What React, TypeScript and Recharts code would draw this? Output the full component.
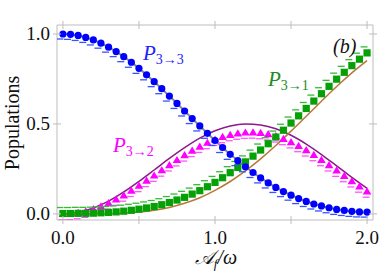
import { ComposedChart, Line, Scatter, XAxis, YAxis } from 'recharts';

// marker grid (step 0.05) and curve grid (step 0.1)
const markerX = [
  0, 0.05, 0.1, 0.15, 0.2, 0.25, 0.3, 0.35, 0.4, 0.45, 0.5, 0.55, 0.6, 0.65, 0.7, 0.75, 0.8, 0.85, 0.9, 0.95,
  1.0, 1.05, 1.1, 1.15, 1.2, 1.25, 1.3, 1.35, 1.4, 1.45, 1.5, 1.55, 1.6, 1.65, 1.7, 1.75, 1.8, 1.85, 1.9, 1.95, 2.0,
];
const p33Points = [
  1.0, 0.998, 0.992, 0.981, 0.967, 0.949, 0.927, 0.902, 0.874, 0.843, 0.809, 0.773, 0.735, 0.696, 0.655, 0.614,
  0.572, 0.53, 0.489, 0.448, 0.408, 0.369, 0.331, 0.296, 0.262, 0.23, 0.2, 0.172, 0.147, 0.124, 0.104, 0.085,
  0.069, 0.055, 0.044, 0.034, 0.025, 0.019, 0.014, 0.011, 0.01,
];
const p32Points = [
  0.0, 0.001, 0.006, 0.014, 0.027, 0.042, 0.06, 0.081, 0.104, 0.13, 0.157, 0.185, 0.214, 0.243, 0.272, 0.3,
  0.327, 0.352, 0.375, 0.396, 0.414, 0.429, 0.44, 0.448, 0.453, 0.454, 0.451, 0.444, 0.433, 0.418, 0.4, 0.379,
  0.355, 0.329, 0.301, 0.272, 0.242, 0.212, 0.183, 0.154, 0.126,
];
const p31Points = [
  0.002, 0.002, 0.003, 0.003, 0.004, 0.006, 0.008, 0.011, 0.015, 0.02, 0.026, 0.033, 0.041, 0.051, 0.063, 0.077,
  0.092, 0.11, 0.129, 0.151, 0.175, 0.201, 0.229, 0.258, 0.289, 0.321, 0.355, 0.39, 0.427, 0.465, 0.505, 0.545,
  0.586, 0.627, 0.668, 0.709, 0.749, 0.787, 0.824, 0.86, 0.895,
];

const curveX = [0, 0.1, 0.2, 0.3, 0.4, 0.5, 0.6, 0.7, 0.8, 0.9, 1.0, 1.1, 1.2, 1.3, 1.4, 1.5, 1.6, 1.7, 1.8, 1.9, 2.0];
const p33Curve = [
  1.0, 0.992, 0.967, 0.927, 0.874, 0.809, 0.735, 0.655, 0.572, 0.489, 0.408, 0.331, 0.262, 0.2, 0.147, 0.104,
  0.069, 0.044, 0.025, 0.013, 0.006,
];
const p32Curve = [
  0.0, 0.008, 0.033, 0.071, 0.122, 0.181, 0.244, 0.308, 0.368, 0.421, 0.462, 0.489, 0.5, 0.494, 0.473, 0.437,
  0.388, 0.33, 0.267, 0.203, 0.142,
];
const p31Curve = [
  0.0, 0.0, 0.0, 0.001, 0.004, 0.01, 0.02, 0.036, 0.059, 0.09, 0.131, 0.18, 0.239, 0.306, 0.38, 0.46, 0.543,
  0.626, 0.708, 0.784, 0.852,
];

const xTicks = [0, 0.5, 1, 1.5, 2];
const xLabeled = [0, 1, 2];
const yTicks = [0, 0.5, 1];

const toPts = (xs: number[], ys: number[]) => xs.map((x, i) => ({ x, y: ys[i] }));

const FRAME = '#bdbdbd';
const SERIF = 'Liberation Serif';

const BottomTick = ({ x, y, payload }: any) => (
  <g>
    <line x1={x} x2={x} y1={y - 4} y2={y + 4} stroke={FRAME} />
    {xLabeled.includes(payload.value) && (
      <text x={x} y={y + 24} textAnchor="middle" fontFamily={SERIF} fontSize={19} fill="#111">
        {payload.value.toFixed(1)}
      </text>
    )}
  </g>
);
const TopTick = ({ x, y }: any) => <line x1={x} x2={x} y1={y - 4} y2={y + 4} stroke={FRAME} />;
const LeftTick = ({ x, y, payload }: any) => (
  <g>
    <line x1={x - 4} x2={x + 4} y1={y} y2={y} stroke={FRAME} />
    <text x={x - 7} y={y + 6} textAnchor="end" fontFamily={SERIF} fontSize={19} fill="#111">
      {payload.value.toFixed(1)}
    </text>
  </g>
);
const RightTick = ({ x, y }: any) => <line x1={x - 4} x2={x + 4} y1={y} y2={y} stroke={FRAME} />;

const Dash = ({ cx, cy, dx, dy, color }: any) => (
  <line x1={cx + dx - 3.5} x2={cx + dx + 3.5} y1={cy + dy} y2={cy + dy} stroke={color} strokeWidth={1.3} />
);

const CircleMark = ({ cx, cy }: any) => (
  <g>
    <Dash cx={cx} cy={cy} dx={-3} dy={5} color="#3355ff" />
    <circle cx={cx} cy={cy} r={3.6} fill="#0000ff" />
  </g>
);
const TriangleMark = ({ cx, cy }: any) => (
  <g>
    <Dash cx={cx} cy={cy} dx={-1} dy={6} color="#ff55ff" />
    <path d={`M${cx},${cy - 4} L${cx + 4.3},${cy + 3.2} L${cx - 4.3},${cy + 3.2} Z`} fill="#ff00ff" />
  </g>
);
const SquareMark = ({ cx, cy }: any) => (
  <g>
    <Dash cx={cx} cy={cy} dx={-3} dy={-6} color="#33bb33" />
    <rect x={cx - 3.6} y={cy - 3.6} width={7.2} height={7.2} fill="#05a005" />
  </g>
);

export default function App() {
  return (
    <div style={{ position: 'relative', width: 382, height: 273 }}>
      <style>{'body{margin:0}'}</style>
      <ComposedChart width={382} height={273} margin={{ top: 24, right: 8, bottom: 0, left: 0 }}>
        <XAxis
          xAxisId={0}
          type="number"
          dataKey="x"
          domain={[-0.039, 2.039]}
          ticks={xTicks}
          tick={BottomTick}
          tickLine={false}
          tickSize={0}
          tickMargin={0}
          axisLine={{ stroke: FRAME }}
          height={53}
          allowDataOverflow
        />
        <XAxis
          xAxisId="top"
          orientation="top"
          type="number"
          dataKey="x"
          domain={[-0.039, 2.039]}
          ticks={xTicks}
          tick={TopTick}
          tickLine={false}
          tickSize={0}
          tickMargin={0}
          axisLine={{ stroke: FRAME }}
          height={1}
          allowDataOverflow
        />
        <YAxis
          yAxisId={0}
          type="number"
          domain={[-0.034, 1.05]}
          ticks={yTicks}
          tick={LeftTick}
          tickLine={false}
          tickSize={0}
          tickMargin={0}
          axisLine={{ stroke: FRAME }}
          width={57}
          allowDataOverflow
        />
        <YAxis
          yAxisId="right"
          orientation="right"
          type="number"
          domain={[-0.034, 1.05]}
          ticks={yTicks}
          tick={RightTick}
          tickLine={false}
          tickSize={0}
          tickMargin={0}
          axisLine={{ stroke: FRAME }}
          width={1}
          allowDataOverflow
        />
        <Scatter data={toPts(markerX, p32Points)} dataKey="y" shape={TriangleMark} isAnimationActive={false} />
        <Scatter data={toPts(markerX, p31Points)} dataKey="y" shape={SquareMark} isAnimationActive={false} />
        <Scatter data={toPts(markerX, p33Points)} dataKey="y" shape={CircleMark} isAnimationActive={false} />
        <Line data={toPts(curveX, p33Curve)} dataKey="y" type="monotone" stroke="#8a8a8a" strokeWidth={2} dot={false} isAnimationActive={false} />
        <Line data={toPts(curveX, p32Curve)} dataKey="y" type="monotone" stroke="#8b1a8b" strokeWidth={1.5} dot={false} isAnimationActive={false} />
        <Line data={toPts(curveX, p31Curve)} dataKey="y" type="monotone" stroke="#b9773a" strokeWidth={1.5} dot={false} isAnimationActive={false} />
      </ComposedChart>

      {/* annotations on top of the plot */}
      <svg width={382} height={273} style={{ position: 'absolute', left: 0, top: 0, pointerEvents: 'none' }}>
        <text x={143} y={60} fill="#2222ff" fontFamily={SERIF} fontSize={21} fontStyle="italic">
          P<tspan fontSize={14} fontStyle="normal" dy={4}>3→3</tspan>
        </text>
        <text x={113} y={152} fill="#ff00ff" fontFamily={SERIF} fontSize={21} fontStyle="italic">
          P<tspan fontSize={14} fontStyle="normal" dy={4}>3→2</tspan>
        </text>
        <text x={268} y={86} fill="#238b23" fontFamily={SERIF} fontSize={21} fontStyle="italic">
          P<tspan fontSize={14} fontStyle="normal" dy={4}>3→1</tspan>
        </text>
        <text x={333} y={53} fill="#111" fontFamily={SERIF} fontSize={20} fontStyle="italic">
          (b)
        </text>
        <text x={216} y={264} textAnchor="middle" fill="#111" fontFamily={SERIF} fontSize={20} fontStyle="italic">
          𝒜<tspan fontSize={13} dy={4}>f</tspan>
          <tspan dy={-4}>/ω</tspan>
        </text>
        <text x={19} y={123} transform="rotate(-90 19 123)" textAnchor="middle" fill="#111" fontFamily={SERIF} fontSize={20}>
          Populations
        </text>
      </svg>
    </div>
  );
}
